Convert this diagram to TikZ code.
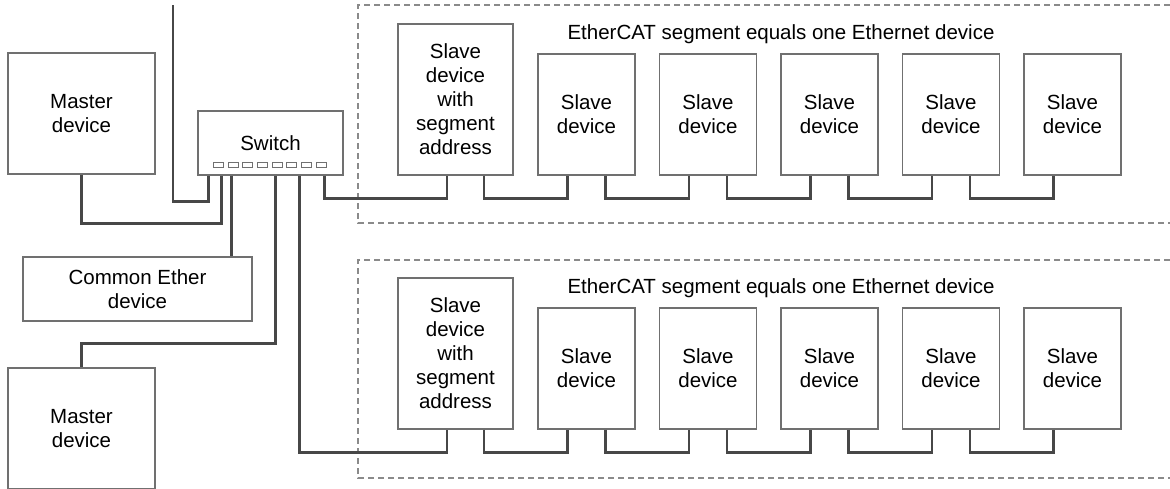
\documentclass[tikz,border=0pt]{standalone}
\usepackage{fontspec}
\setmainfont{Liberation Sans}
\definecolor{boxc}{HTML}{707070}
\definecolor{linec}{HTML}{474747}
\definecolor{dashc}{HTML}{8A8A8A}
\begin{document}
\begin{tikzpicture}[x=1pt,y=-1pt,
  dev/.style={draw=boxc,line width=1.2pt,fill=white,inner sep=0pt,align=center,
    font=\fontsize{20.5}{24}\selectfont},
  slv/.style={dev,minimum width=97pt,minimum height=121pt},
  port/.style={draw=boxc,line width=0.9pt,inner sep=0pt,minimum width=10pt,minimum height=5pt},
  conn/.style={draw=linec,line width=2.8pt},
  seg/.style={draw=dashc,line width=1.1pt,dash pattern=on 6pt off 4pt},
  ttl/.style={font=\fontsize{20.5}{24}\selectfont,inner sep=0pt}]
\clip (0,0) rectangle (1170,488);
\fill[white] (0,0) rectangle (1170,488);

% segment frames
\draw[seg] (1180,5) -- (358,5) -- (358,223) -- (1180,223);
\draw[seg] (1180,260) -- (358,260) -- (358,478) -- (1180,478);
\node[ttl] (t1) at (781,34.5) {EtherCAT segment equals one Ethernet device};
\node[ttl] (t2) at (781,288.5) {EtherCAT segment equals one Ethernet device};

% left devices
\node[dev,minimum width=147pt,minimum height=121pt] (m1) at (81.5,113.5) {Master\\device};
\node[dev,minimum width=145pt,minimum height=64pt] (sw) at (270.5,143) {Switch};
\node[dev,minimum width=229pt,minimum height=64pt] (ce) at (137.5,289) {Common Ether\\device};
\node[dev,minimum width=147pt,minimum height=121pt] (m2) at (81.5,428.5) {Master\\device};

% switch ports
\foreach \i in {0,...,7}{
  \node[port] (port\i) at ({218.3+14.7*\i},164.8) {};
}

% slaves, upper segment
\node[dev,minimum width=115pt,minimum height=151pt] (segA) at (455.5,99.5) {Slave\\device\\with\\segment\\address};
\foreach \i in {1,...,5}{
  \node[slv] (sA\i) at ({586.5+121.5*(\i-1)},114.5) {Slave\\device};
}
% slaves, lower segment
\node[dev,minimum width=115pt,minimum height=151pt] (segB) at (455.5,353.5) {Slave\\device\\with\\segment\\address};
\foreach \i in {1,...,5}{
  \node[slv] (sB\i) at ({586.5+121.5*(\i-1)},368.5) {Slave\\device};
}

% switch cable points
\coordinate (sp1) at ([xshift=11pt]sw.south west);
\coordinate (sp2) at ([xshift=24pt]sw.south west);
\coordinate (sp3) at ([xshift=34pt]sw.south west);
\coordinate (sp5) at ([xshift=78pt]sw.south west);
\coordinate (sp7) at ([xshift=102pt]sw.south west);
\coordinate (sp8) at ([xshift=127pt]sw.south west);
\coordinate (up) at (173,5);

% cables at the switch
\draw[conn] (up) |- ([yshift=-26pt]sp1) -- (sp1);
\draw[conn] (m1.south) |- ([yshift=-48pt]sp2) -- (sp2);
\draw[conn] (sp3) -- (sp3 |- ce.north);
\draw[conn] (sp5) |- ([yshift=24pt]m2.north) -- (m2.north);
\draw[conn] (sp8) |- ([xshift=-8.5pt,yshift=-23pt]segA.south) -- ([xshift=-8.5pt]segA.south);
\draw[conn] (sp7) |- ([xshift=-8.5pt,yshift=-23pt]segB.south) -- ([xshift=-8.5pt]segB.south);

% chains
\draw[conn] ([xshift=28.5pt]segA.south) -- ([xshift=28.5pt,yshift=-23pt]segA.south) -| ([xshift=-19pt]sA1.south);
\draw[conn] ([xshift=28.5pt]segB.south) -- ([xshift=28.5pt,yshift=-23pt]segB.south) -| ([xshift=-19pt]sB1.south);
\foreach \a/\b in {1/2,2/3,3/4,4/5}{
  \draw[conn] ([xshift=19pt]sA\a.south) -- ([xshift=19pt,yshift=-23pt]sA\a.south) -| ([xshift=-19pt]sA\b.south);
  \draw[conn] ([xshift=19pt]sB\a.south) -- ([xshift=19pt,yshift=-23pt]sB\a.south) -| ([xshift=-19pt]sB\b.south);
}
\end{tikzpicture}
\end{document}
